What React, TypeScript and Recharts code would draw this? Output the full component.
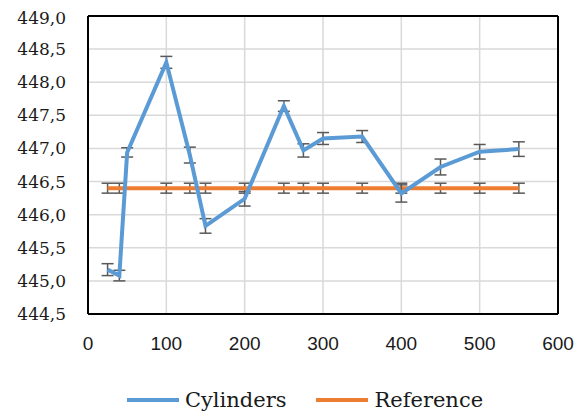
import { CartesianGrid, ErrorBar, Legend, Line, LineChart, ReferenceLine, XAxis, YAxis } from 'recharts';

// x positions and values
const cylX = [25, 40, 50, 100, 130, 150, 200, 250, 275, 300, 350, 400, 450, 500, 550];
const cylY = [445.17, 445.08, 446.94, 448.3, 446.9, 445.83, 446.24, 447.64, 446.97, 447.15, 447.18, 446.32, 446.72, 446.95, 446.99];
const cylErr = [0.09, 0.08, 0.07, 0.09, 0.12, 0.11, 0.11, 0.08, 0.1, 0.09, 0.09, 0.13, 0.12, 0.11, 0.11];

const refX = [25, 40, 100, 130, 150, 200, 250, 275, 300, 350, 400, 450, 500, 550];
const refValue = 446.4;
const refErr = 0.075;

const xTicks = [0, 100, 200, 300, 400, 500, 600];
const yTicks = [444.5, 445, 445.5, 446, 446.5, 447, 447.5, 448, 448.5, 449];

const cylData = cylX.map((x, i) => ({ x, y: cylY[i], err: cylErr[i] }));
const refData = refX.map((x) => ({ x, y: refValue, err: refErr }));

const BLUE = '#5B9BD5';
const ORANGE = '#ED7D31';

const legendItems = [
  { name: 'Cylinders', color: BLUE },
  { name: 'Reference', color: ORANGE },
];

function ChartLegend() {
  return (
    <div style={{ display: 'flex', justifyContent: 'center', alignItems: 'center', height: 28, paddingLeft: 28, gap: 30 }}>
      {legendItems.map((it) => (
        <div key={it.name} style={{ display: 'flex', alignItems: 'center' }}>
          <div style={{ width: 52, height: 4, background: it.color, marginRight: 6 }} />
          <span style={{ fontFamily: 'DejaVu Serif', fontSize: 21, color: '#1a1a1a' }}>{it.name}</span>
        </div>
      ))}
    </div>
  );
}

export default function App() {
  return (
    <LineChart width={566} height={406} margin={{ top: 8, right: 16, left: 0, bottom: 0 }}>
      <CartesianGrid stroke="#d9d9d9" strokeWidth={1.5} />
      <XAxis
        type="number"
        dataKey="x"
        domain={[0, 600]}
        ticks={xTicks}
        height={72}
        axisLine={{ stroke: '#000', strokeWidth: 2 }}
        tickLine={false}
        tickSize={0}
        tickMargin={23}
        tick={{ fontFamily: 'Liberation Sans', fontSize: 19, fill: '#1a1a1a' }}
        allowDuplicatedCategory={false}
      />
      <YAxis
        type="number"
        domain={[444.5, 449]}
        ticks={yTicks}
        width={80}
        axisLine={{ stroke: '#000', strokeWidth: 2 }}
        tickLine={false}
        tickSize={0}
        tickMargin={22}
        tick={{ fontFamily: 'DejaVu Serif', fontSize: 17, fill: '#1a1a1a' }}
        tickFormatter={(v: number) => v.toFixed(1).replace('.', ',')}
      />
      <ReferenceLine y={449} stroke="#000" strokeWidth={2} />
      <ReferenceLine x={600} stroke="#000" strokeWidth={2} />
      <Line
        data={refData}
        dataKey="y"
        name="Reference"
        stroke={ORANGE}
        strokeWidth={4}
        dot={false}
        isAnimationActive={false}
      >
        <ErrorBar dataKey="err" direction="y" width={6} stroke="#595959" strokeWidth={1.5} isAnimationActive={false} />
      </Line>
      <Line
        data={cylData}
        dataKey="y"
        name="Cylinders"
        stroke={BLUE}
        strokeWidth={4}
        dot={false}
        isAnimationActive={false}
      >
        <ErrorBar dataKey="err" direction="y" width={6} stroke="#595959" strokeWidth={1.5} isAnimationActive={false} />
      </Line>
      <Legend verticalAlign="bottom" wrapperStyle={{ left: 0, width: 566, height: 28 }} content={() => <ChartLegend />} />
    </LineChart>
  );
}
